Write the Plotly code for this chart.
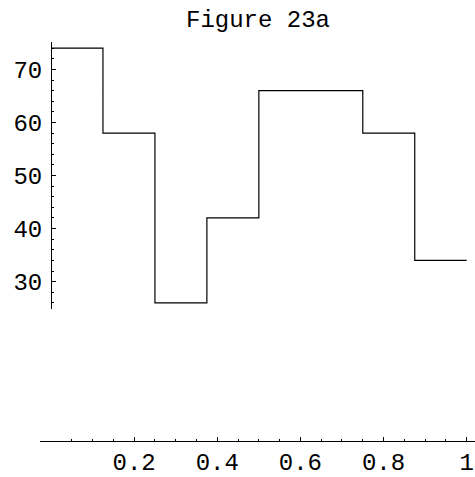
import plotly.graph_objects as go

# Piecewise-constant signal on [0, 1], eight equal intervals
interval_starts = [0.0, 0.125, 0.25, 0.375, 0.5, 0.625, 0.75, 0.875]
interval_end = 1.0
levels = [74, 58, 26, 42, 66, 66, 58, 34]

x_tick_values = [0.2, 0.4, 0.6, 0.8, 1.0]
x_tick_labels = ["0.2", "0.4", "0.6", "0.8", "1"]
x_minor_values = [0.05, 0.1, 0.15, 0.25, 0.3, 0.35, 0.45, 0.5, 0.55,
                  0.65, 0.7, 0.75, 0.85, 0.9, 0.95]
y_tick_values = [30, 40, 50, 60, 70]

W, H = 475, 477
FONT = "Liberation Mono, Courier New, monospace"
FSIZE = 24

xs = interval_starts + [interval_end]
ys = levels + [levels[-1]]

fig = go.Figure()
fig.add_trace(go.Scatter(
    x=xs, y=ys, mode="lines", line_shape="hv",
    line=dict(color="#000000", width=1.2),
    hoverinfo="skip", showlegend=False,
))

# pixel geometry of the axes
x0_px, x1_px = 51.0, 466.7          # x = 0 and x = 1
xaxis_y_px = 444.3                  # height of the horizontal axis (y = 0)
px_per_x = x1_px - x0_px
x_left_px = 40.0

y70_px, px_per_10 = 70.0, 53.5
y_top_px, y_bot_px = 42.2, 311.8


def y_val(px):
    return 70 - (px - y70_px) / px_per_10 * 10


fig.update_layout(
    width=W, height=H,
    margin=dict(l=0, r=0, t=0, b=0),
    paper_bgcolor="white", plot_bgcolor="white",
    font=dict(family=FONT, size=FSIZE, color="#000000"),
    xaxis=dict(
        domain=[x_left_px / W, 1.0],
        range=[(x_left_px - x0_px) / px_per_x, (W - x0_px) / px_per_x],
        anchor="free", position=1 - xaxis_y_px / H,
        showline=True, linecolor="#000000", linewidth=1,
        showgrid=False, zeroline=False,
        ticks="inside", ticklen=4, tickwidth=1, tickcolor="#000000",
        tickmode="array", tickvals=x_tick_values, ticktext=x_tick_labels,
        minor=dict(tickmode="array", tickvals=x_minor_values, ticks="inside",
                   ticklen=2, tickwidth=1, tickcolor="#000000", showgrid=False),
        tickfont=dict(family=FONT, size=FSIZE, color="#000000"),
        fixedrange=True,
    ),
    yaxis=dict(
        domain=[1 - y_bot_px / H, 1 - y_top_px / H],
        range=[y_val(y_bot_px), y_val(y_top_px)],
        anchor="free", position=x0_px / W,
        showline=True, linecolor="#000000", linewidth=1,
        showgrid=False, zeroline=False,
        ticks="inside", ticklen=4, tickwidth=1, tickcolor="#000000",
        tickmode="array", tickvals=y_tick_values,
        ticklabelstandoff=4,
        minor=dict(dtick=2, tick0=0, ticks="inside", ticklen=2, tickwidth=1,
                   tickcolor="#000000", showgrid=False),
        tickfont=dict(family=FONT, size=FSIZE, color="#000000"),
        fixedrange=True,
    ),
    annotations=[dict(
        text="Figure 23a", xref="paper", yref="paper",
        x=258 / W, y=1 - 21 / H, xanchor="center", yanchor="middle",
        showarrow=False, font=dict(family=FONT, size=FSIZE, color="#000000"),
    )],
)

fig.write_html("out.html")
